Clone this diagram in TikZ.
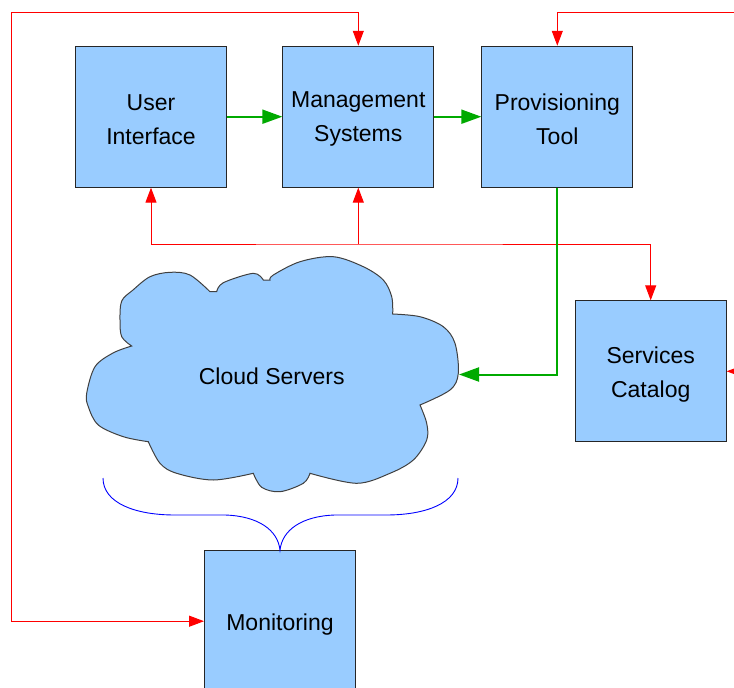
\documentclass[tikz,border=0pt]{standalone}
\usepackage{fontspec}
\setmainfont{Liberation Sans}
\usetikzlibrary{arrows.meta}
\definecolor{boxblue}{HTML}{99CCFF}
\definecolor{lred}{HTML}{FF0000}
\definecolor{lgreen}{HTML}{00AA00}
\definecolor{lblue}{HTML}{0000FF}
\tikzset{
  box/.style={draw=black!85, line width=0.9pt, fill=boxblue, minimum width=151pt, minimum height=141pt,
    inner sep=0pt},
  boxtext/.style={inner sep=0pt, align=center, font=\fontsize{23}{34}\selectfont},
  rline/.style={draw=lred, line width=1pt},
  rtip/.style={-{Triangle[length=15pt,width=11pt]}},
  rtips/.style={{Triangle[length=15pt,width=11pt]}-{Triangle[length=15pt,width=11pt]}},
  gline/.style={draw=lgreen, line width=2pt, -{Triangle[length=20pt,width=14pt]}},
  brace/.style={draw=lblue, line width=0.9pt},
  cloudshape/.style={draw=black!75, line width=1pt, fill=boxblue},
}
\begin{document}
\begin{tikzpicture}[x=1pt,y=-1pt]
\useasboundingbox (0,0) rectangle (734,688);
\clip (0,0) rectangle (734,688);

% cloud
\filldraw[cloudshape]
  plot[smooth,tension=0.55] coordinates {(148.3,441.7) (123.3,436.7) (98.3,425) (88.3,406.7) (86.7,393.3) (95,366.7) (113,353) (131.7,346)}
  -- plot[smooth,tension=0.55] coordinates {(131.7,346) (121.7,336.7) (120,320) (121.7,301) (133,290) (150,276.7) (170,272.3) (190,275) (210,291.7)}
  -- plot[smooth,tension=0.55] coordinates {(216.7,291.7) (223.3,282.7) (253.3,273.3) (263.3,280)}
  -- plot[smooth,tension=0.55] coordinates {(270,280) (273.3,275) (300,261.7) (333.3,256.7) (363.3,266.7) (383.3,280) (391.7,296.7) (392.7,314)}
  -- plot[smooth,tension=0.55] coordinates {(392.7,314) (420,316.7) (443.3,326.7) (455,343.3) (458.3,373.3) (450,390) (420,405)}
  -- plot[smooth,tension=0.55] coordinates {(420,405) (426.7,423.3) (426.7,440) (413.3,460) (390,473.3) (356.7,483.3) (310,473.3)}
  -- plot[smooth,tension=0.55] coordinates {(310,473.3) (303.3,483.3) (280,491.7) (261.7,487.3) (253.3,473.3)}
  -- plot[smooth,tension=0.55] coordinates {(253.3,473.3) (213.3,480) (176.7,473.3) (160,463.3) (148.3,441.7)}
  -- cycle;
\node[boxtext] (cloud) at (271.7,376.7) {Cloud Servers};
\coordinate (cloudE) at (459,374.5);

% boxes
\node[box] (ui) at (151,116.7) {};
\node[box] (ms) at (358.3,116.7) {};
\node[box] (pt) at (557.3,116.7) {};
\node[box] (sc) at (650.7,371.3) {};
\node[box] (mon) at (280,621.2) {};
\node[boxtext] (uit) at ([yshift=-2.5pt]ui.center) {User\\Interface};
\node[boxtext] (mst) at ([yshift=-2.5pt]ms.center) {Management\\Systems};
\node[boxtext] (ptt) at ([yshift=-2.5pt]pt.center) {Provisioning\\Tool};
\node[boxtext] (sct) at ([yshift=-3pt]sc.center) {Services\\Catalog};
\node[boxtext] (mont) at ([yshift=-3pt]mon.center) {Monitoring};

% helper coordinates
\coordinate (tl) at (11,12);
\coordinate (tr) at (736,12);
\coordinate (rr) at (736,371.3);
\coordinate (hj) at (358.3,244);

% red connectors
\draw[rline,rtips] (ms.north) |- (tl) |- (mon.west);
\draw[rline,rtip] (tr) -| (pt.north);
\draw[rline,rtip] (rr) -- (sc.east);
\draw[rline,rtips] (ui.south) |- (hj) -| (sc.north);
\draw[rline,rtip] (hj) -- (ms.south);

% green connectors
\draw[gline] (ui.east) -- (ms.west);
\draw[gline] (ms.east) -- (pt.west);
\draw[gline] (pt.south) |- (cloudE);

% brace
\coordinate (bl) at (103,478);
\coordinate (br) at (458,478);
\draw[brace] (bl) .. controls (103,503) and (135,515) .. (175,515) -- (225,515)
  .. controls (258,516) and (278,530) .. (mon.north)
  .. controls (282,530) and (302,516) .. (335,515) -- (386,515)
  .. controls (426,515) and (458,503) .. (br);
\end{tikzpicture}
\end{document}
